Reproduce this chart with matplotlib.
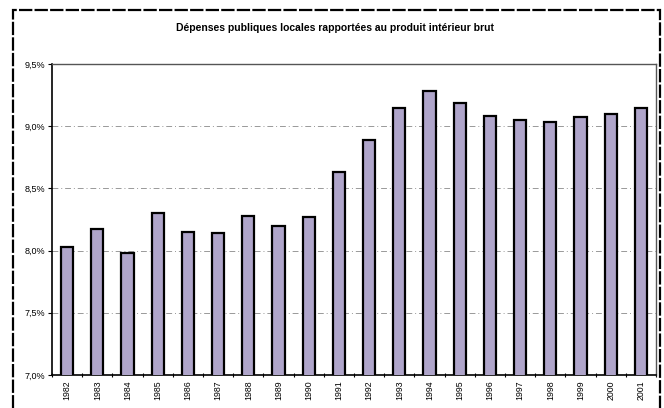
import numpy as np
import matplotlib.pyplot as plt
from matplotlib.patches import Rectangle
from matplotlib.ticker import FixedLocator

plt.rcParams['font.family'] = ['Liberation Sans', 'DejaVu Sans']

years = [str(y) for y in range(1982, 2002)]
share = [8.03, 8.17, 7.98, 8.30, 8.15, 8.14, 8.28, 8.20, 8.27, 8.63,
         8.89, 9.15, 9.28, 9.19, 9.08, 9.05, 9.03, 9.07, 9.10, 9.15]
yticks = [7.0, 7.5, 8.0, 8.5, 9.0, 9.5]
ylabels = ['7,0%', '7,5%', '8,0%', '8,5%', '9,0%', '9,5%']

fig = plt.figure(figsize=(6.64, 4.08), dpi=100)
ax = fig.add_axes([52/664, 1 - 375/408, 604/664, 311/408])

x = np.arange(len(years))
ax.bar(x, share, width=0.4, color='#afa5ca', edgecolor='black', linewidth=1.6,
       zorder=3)

ax.set_xlim(-0.5, len(years) - 0.5)
ax.set_ylim(7.0, 9.5)
ax.set_yticks(yticks)
ax.set_yticklabels(ylabels, fontsize=6.5)
ax.set_xticks(x)
ax.set_xticklabels(years, rotation=90, fontsize=6.3)
ax.tick_params(axis='x', length=0, pad=4)
ax.xaxis.set_minor_locator(FixedLocator(np.arange(-0.5, len(years), 1.0)))
ax.tick_params(axis='x', which='minor', direction='inout', length=3, width=0.8)
ax.tick_params(axis='y', direction='out', length=3, width=0.8, pad=2)

for y in yticks[1:-1]:
    ax.axhline(y, color='#999999', linewidth=0.7,
               linestyle=(0, (6, 3, 1, 3)), zorder=1)

for side in ['left', 'bottom']:
    ax.spines[side].set_linewidth(1.2)
for side in ['top', 'right']:
    ax.spines[side].set_color('#555555')
    ax.spines[side].set_linewidth(1.0)

fig.text(335/664, 1 - 28/408,
         'Dépenses publiques locales rapportées au produit intérieur brut',
         ha='center', va='center', fontsize=7.5, fontweight='bold')

# outer frame around the whole chart (runs off the bottom edge)
fig.patches.append(Rectangle((13/664, -0.05), 647/664, 1.05 - 10/408,
                             transform=fig.transFigure, fill=False,
                             edgecolor='black', linewidth=1.6,
                             linestyle=(0, (6, 1))))

fig.savefig('out.png', dpi=100)
